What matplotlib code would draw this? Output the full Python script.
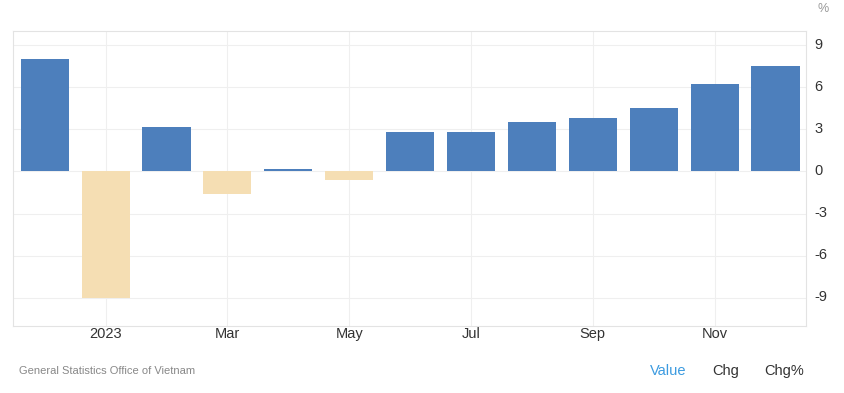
import matplotlib
matplotlib.use("Agg")
import matplotlib.pyplot as plt
from matplotlib.transforms import ScaledTranslation

months = ["Dec", "Jan", "Feb", "Mar", "Apr", "May", "Jun", "Jul", "Aug", "Sep", "Oct", "Nov", "Dec"]
values = [8.0, -9.0, 3.2, -1.6, 0.2, -0.6, 2.8, 2.8, 3.5, 3.8, 4.5, 6.2, 7.5]
tick_idx = [1, 3, 5, 7, 9, 11]
tick_labels = ["2023", "Mar", "May", "Jul", "Sep", "Nov"]
yticks = [-9, -6, -3, 0, 3, 6, 9]

plt.rcParams['font.family'] = ['Liberation Sans', 'DejaVu Sans']
plt.rcParams['axes.unicode_minus'] = False

fig = plt.figure(figsize=(8.44, 3.93), dpi=100)
ax = fig.add_axes([13/844, (393-326)/393, 793/844, 295/393])

x = list(range(len(values)))
colors = ["#4d7fbc" if v >= 0 else "#f5deb3" for v in values]
ax.bar(x, values, width=0.79, color=colors, zorder=3)

ax.set_xlim(-0.52, 12.5)
ax.set_ylim(-11, 10)
ax.set_yticks(yticks)
ax.set_xticks(tick_idx)
ax.set_xticklabels(tick_labels)
ax.yaxis.tick_right()
ax.grid(True, color="#efefef", linewidth=0.8, zorder=0)
for s in ax.spines.values():
    s.set_color("#e3e3e3")
    s.set_linewidth(0.8)
ax.tick_params(axis='both', length=0, labelsize=10.5, colors="#333333")
ax.tick_params(axis='y', pad=6)
ax.tick_params(axis='x', pad=1)
offset = ScaledTranslation(0, 2/100, fig.dpi_scale_trans)
for lbl in ax.get_yticklabels():
    lbl.set_transform(lbl.get_transform() + offset)

fig.text(823/844, 1 - 9/393, "%", fontsize=9, color="#999999", ha="center", va="center")
fig.text(19/844, 1 - 371/393, "General Statistics Office of Vietnam", fontsize=8, color="#888888", ha="left", va="center")
fig.text(668/844, 1 - 371/393, "Value", fontsize=10.5, color="#3c9be0", ha="center", va="center")
fig.text(726/844, 1 - 371/393, "Chg", fontsize=10.5, color="#333333", ha="center", va="center")
fig.text(784/844, 1 - 371/393, "Chg%", fontsize=10.5, color="#333333", ha="center", va="center")

fig.savefig("out.png", dpi=100)
